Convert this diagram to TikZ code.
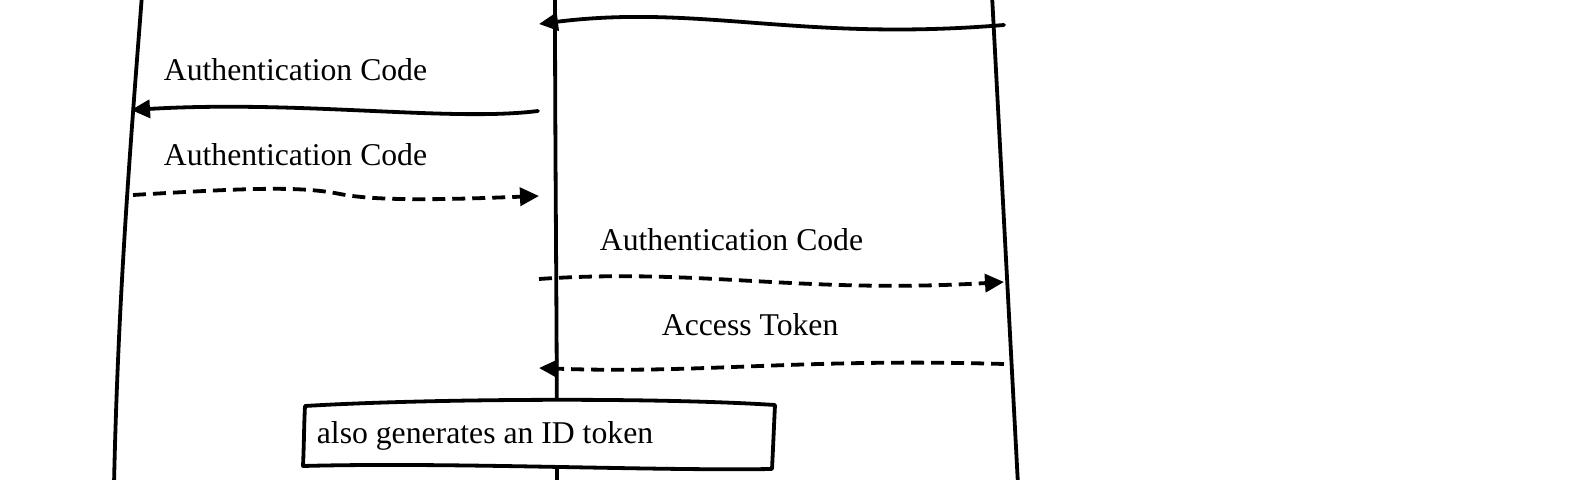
\documentclass[tikz,border=0pt]{standalone}
\usepackage{fontspec}
\setmainfont{Liberation Serif}
\usetikzlibrary{arrows.meta}
\begin{document}
\begin{tikzpicture}[x=0.5pt,y=-0.5pt,
  line width=1.9pt, line cap=round, line join=round,
  lifeline/.style={draw=black, line width=1.9pt},
  msg/.style={draw=black, line width=1.9pt, -{Triangle[length=9.5pt,width=9pt]}},
  reply/.style={msg, dash pattern=on 6.5pt off 3.5pt, line cap=butt},
  lbl/.style={anchor=base west, inner sep=0pt, font=\fontsize{15.85}{19}\selectfont},
  notebox/.style={draw=black, fill=white, line width=1.9pt}]
\useasboundingbox (0,0) rectangle (1580,480);
% lifeline end points
\coordinate (Lt) at (142,-5);  \coordinate (Lb) at (114,485);
\coordinate (Mt) at (555,-5);  \coordinate (Mb) at (557,485);
\coordinate (Rt) at (992,-5);  \coordinate (Rb) at (1018,485);
\path[lifeline] (Lt) .. controls (130,150) and (118,300) .. (Lb);
\path[lifeline] (Mt) .. controls (555,160) and (557,320) .. (Mb);
\path[lifeline] (Rt) -- (Rb);
% message end points
\coordinate (m1s) at (1004,25);  \coordinate (m1e) at (539,24);
\coordinate (m2s) at (538,111);  \coordinate (m2e) at (131,110);
\coordinate (m3s) at (133,195);  \coordinate (m3e) at (539,196);
\coordinate (m4s) at (539,279);  \coordinate (m4e) at (1004,282);
\coordinate (m5s) at (1004,364); \coordinate (m5e) at (539,368);
\path[msg] (m1s) .. controls (800,42) and (700,4) .. (m1e);
\path[msg] (m2s) .. controls (450,122) and (300,100) .. (m2e);
\path[reply] (m3s) .. controls (250,188) and (300,186) .. (340,194)
  .. controls (380,202) and (460,199) .. (m3e);
\path[reply] (m4s) .. controls (700,268) and (800,294) .. (m4e);
\path[reply] (m5s) .. controls (800,358) and (700,374) .. (m5e);
% labels
\node[lbl] (t2) at (162,81) {Authentication Code};
\node[lbl] (t3) at (162,166) {Authentication Code};
\node[lbl] (t4) at (598,251) {Authentication Code};
\node[lbl] (t5) at (660,336) {Access Token};
% note box
\coordinate (b1) at (305,406); \coordinate (b2) at (775,405);
\coordinate (b3) at (772,469); \coordinate (b4) at (303,466);
\path[notebox] (b1) .. controls (420,399) and (650,397) .. (b2)
  .. controls (774,425) and (773,450) .. (b3)
  .. controls (650,471) and (450,462) .. (b4)
  .. controls (304,445) and (304,425) .. cycle;
\node[lbl] (note) at (315,444) {also generates an ID token};
\end{tikzpicture}
\end{document}
